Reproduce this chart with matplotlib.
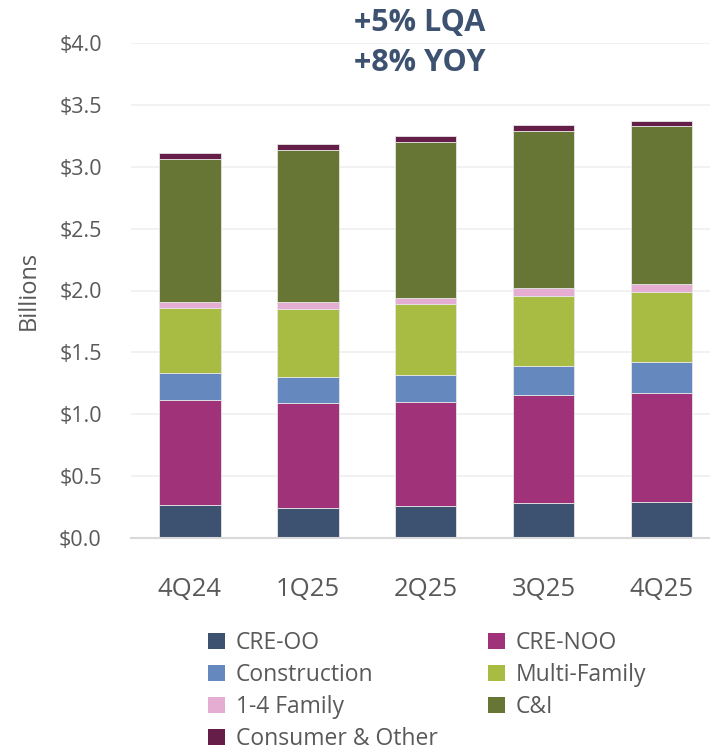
import matplotlib
matplotlib.use("Agg")
import matplotlib.pyplot as plt
import numpy as np
from matplotlib.patches import Patch

plt.rcParams['font.family'] = ['Open Sans', 'DejaVu Sans']

quarters = ["4Q24", "1Q25", "2Q25", "3Q25", "4Q25"]
series_names = ["CRE-OO", "CRE-NOO", "Construction", "Multi-Family", "1-4 Family", "C&I", "Consumer & Other"]
cre_oo = [0.264, 0.245, 0.256, 0.280, 0.288]
cre_noo = [0.849, 0.843, 0.846, 0.873, 0.886]
construction = [0.220, 0.216, 0.218, 0.237, 0.248]
multi_family = [0.528, 0.549, 0.573, 0.563, 0.568]
one_four_family = [0.049, 0.052, 0.049, 0.070, 0.065]
c_and_i = [1.153, 1.228, 1.261, 1.263, 1.277]
consumer_other = [0.046, 0.048, 0.045, 0.049, 0.040]
yticks = [0.0, 0.5, 1.0, 1.5, 2.0, 2.5, 3.0, 3.5, 4.0]
ytick_labels = ["$0.0", "$0.5", "$1.0", "$1.5", "$2.0", "$2.5", "$3.0", "$3.5", "$4.0"]
title_lines = ["+5% LQA", "+8% YOY"]

colors = ["#3D5170", "#A0327A", "#6589BE", "#A8BB43", "#E5ADD2", "#687635", "#641E48"]
data = [cre_oo, cre_noo, construction, multi_family, one_four_family, c_and_i, consumer_other]

W, H = 710, 753
fig = plt.figure(figsize=(W / 100, H / 100), dpi=100)
ax = fig.add_axes([131 / W, 1 - 538 / H, (710 - 131) / W, (538 - 43) / H])

x = np.arange(len(quarters))
bottom = np.zeros(len(quarters))
for vals, col, name in zip(data, colors, series_names):
    ax.bar(x, vals, bottom=bottom, width=0.52, color=col, edgecolor="#e6e6e6",
           linewidth=0.6, label=name, zorder=3)
    bottom += np.array(vals)

ax.set_xlim(-0.5, 4.41)
ax.set_ylim(0, 4.0)
ax.set_yticks(yticks)
ax.set_yticklabels(ytick_labels)
ax.set_xticks(x)
ax.set_xticklabels(quarters)
ax.tick_params(axis='y', length=0, pad=21, labelsize=15.5, labelcolor="#595959")
ax.tick_params(axis='x', length=0, pad=28, labelsize=18.5, labelcolor="#595959")
ax.grid(axis='y', color="#F0F0F0", linewidth=1.3, zorder=0)
for s in ["top", "right", "left"]:
    ax.spines[s].set_visible(False)
ax.spines["bottom"].set_color("#D9D9D9")
ax.spines["bottom"].set_linewidth(1.5)
ax.spines["bottom"].set_zorder(4)

fig.text(29 / W, 1 - 290 / H, "Billions", rotation=90, ha="center", va="center",
         fontsize=17, color="#595959")

fig.text(420 / W, 1 - 23 / H, title_lines[0], ha="center", va="center",
         fontsize=22, fontweight="bold", color="#3D5170")
fig.text(420 / W, 1 - 63 / H, title_lines[1], ha="center", va="center",
         fontsize=22, fontweight="bold", color="#3D5170")

handles = [Patch(facecolor=c, edgecolor="none") for c in colors]
order = [0, 2, 4, 6, 1, 3, 5]
leg = fig.legend([handles[i] for i in order], [series_names[i] for i in order],
                 ncol=2, loc="upper left", bbox_to_anchor=(208 / W, 1 - 631 / H),
                 frameon=False, fontsize=16.5, labelcolor="#595959",
                 handlelength=0.75, handleheight=0.75, handletextpad=0.45,
                 columnspacing=2.2, labelspacing=0.35, borderaxespad=0, borderpad=0)

fig.savefig("out.png", dpi=100)
